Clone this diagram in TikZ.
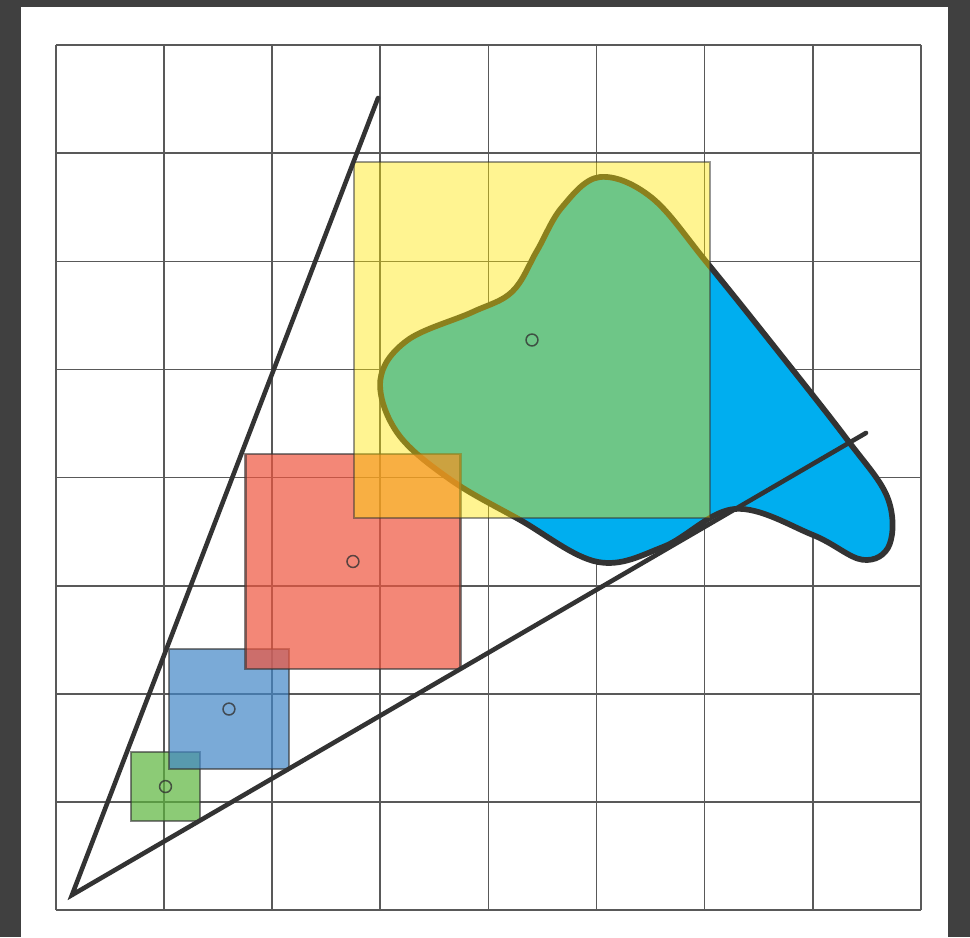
\documentclass[tikz,border=0pt]{standalone}
\usepackage{tikz}
\usetikzlibrary{positioning}

\definecolor{frame}{RGB}{64,64,64}
\definecolor{ink}{RGB}{51,51,51}
\definecolor{blobcyan}{RGB}{0,174,239}
\definecolor{sqyellow}{RGB}{255,230,0}
\definecolor{sqred}{RGB}{239,85,62}
\definecolor{sqblue}{RGB}{66,134,199}
\definecolor{sqgreen}{RGB}{92,181,61}

\begin{document}
\begin{tikzpicture}[
  gridline/.style={draw=black!65, line width=0.45pt},
  sq/.style={draw=ink, draw opacity=0.6, line width=0.65pt, fill opacity=0.7,
             inner sep=0pt, outer sep=0pt},
  ctr/.style={circle, draw=ink, draw opacity=0.8, line width=0.4pt,
              inner sep=0pt, minimum size=1.1mm},
  ray/.style={draw=ink, line width=1.2pt, line cap=round},
]
% page and frame
\fill[frame] (-0.518,-0.250) rectangle (8.455,8.418);
\fill[white] (-0.324,-0.250) rectangle (8.252,8.353);
\useasboundingbox (-0.518,-0.250) rectangle (8.455,8.418);

% grid
\draw[gridline] (0,0) grid (8,8);

% the blob
\draw[ink, line width=1.5pt, fill=blobcyan] plot[smooth cycle, tension=0.6] coordinates {
  (5.03,6.78) (5.51,6.59) (6.02,5.99) (6.67,5.18) (7.32,4.35) (7.69,3.82)
  (7.71,3.38) (7.46,3.24) (7.00,3.47) (6.28,3.71) (5.62,3.36) (5.01,3.22)
  (4.29,3.61) (3.65,3.98) (3.16,4.41) (3.00,4.90) (3.25,5.27) (3.85,5.53)
  (4.22,5.72) (4.45,6.10) (4.68,6.50)};

% squares, small to large
\node[sq, fill=sqgreen, minimum size=6.38mm] (sqg) at (1.013,1.142) {};
\node[sq, fill=sqblue, minimum size=11.1mm] (sqb) at (1.600,1.859) {};
\node[sq, fill=sqred, minimum size=19.9mm] (sqr) at (2.747,3.224) {};
\node[sq, fill=sqyellow, fill opacity=0.43, draw opacity=0.5,
      minimum size=32.9mm] (sqy) at (4.403,5.273) {};

% the two rays
\coordinate (apex) at (0.148,0.139);
\coordinate (upper) at (2.979,7.512);
\coordinate (lower) at (7.493,4.413);
\draw[ray] (upper) -- (apex) -- (lower);

% centres
\node[ctr] (cg) at (sqg.center) {};
\node[ctr] (cb) at (sqb.center) {};
\node[ctr] (cr) at (sqr.center) {};
\node[ctr] (cy) at (sqy.center) {};
\end{tikzpicture}
\end{document}
